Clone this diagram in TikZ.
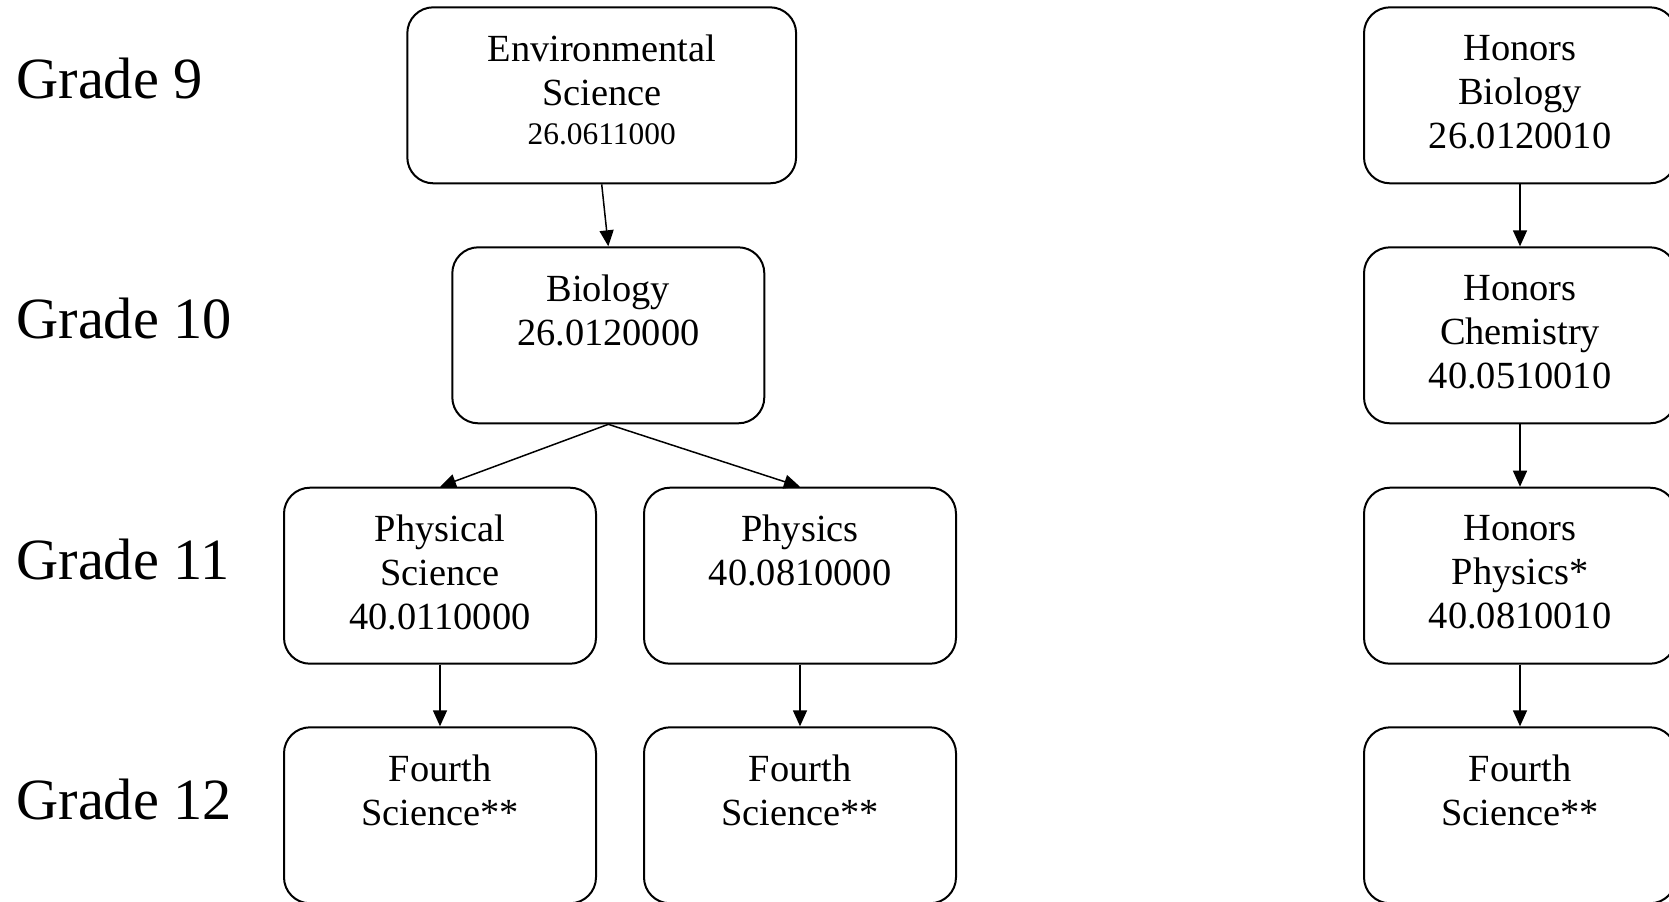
\documentclass[tikz,border=0pt]{standalone}
\usepackage{fontspec}
\setmainfont{Liberation Serif}
\usetikzlibrary{arrows.meta}
\begin{document}
\begin{tikzpicture}[x=0.5pt,y=-0.5pt,
  course/.style={draw, line width=1pt, rounded corners=13pt, minimum width=156pt, minimum height=88pt, inner sep=0pt},
  ctext/.style={anchor=north, inner sep=0pt, align=center, font=\fontsize{19.2pt}{22pt}\selectfont},
  grade/.style={anchor=base west, inner sep=0pt, font=\fontsize{29.2pt}{34pt}\selectfont},
  link/.style={line width=0.75pt, -{Triangle[length=8pt,width=7pt]}}]
\useasboundingbox (0,0) rectangle (1669,901);
\clip (0,0) rectangle (1669,901);

% grade labels
\node[grade] (g9)  at (16,98.3)  {Grade 9};
\node[grade] (g10) at (16,338.3) {Grade 10};
\node[grade] (g11) at (16,579.3) {Grade 11};
\node[grade] (g12) at (16,819.3) {Grade 12};

% boxes
\node[course, minimum width=194.4pt] (env) at (601.7,95.3) {};
\node[course] (bio)   at (608.3,335.3) {};
\node[course] (psci)  at (440,575.7) {};
\node[course] (phys)  at (800,575.7) {};
\node[course] (f4a)   at (440,815.3) {};
\node[course] (f4b)   at (800,815.3) {};
\node[course] (hbio)  at (1520,95.3) {};
\node[course] (hchem) at (1520,335.3) {};
\node[course] (hphys) at (1520,575.7) {};
\node[course] (f4c)   at (1520,815.3) {};

% texts
\node[ctext] (envT) at (601.7,34.8) {Environmental\\Science\\[-2.85pt]{\fontsize{15.7pt}{19pt}\selectfont 26.0611000}};
\node[ctext] (bioT) at (608.3,274.8) {Biology\\26.0120000};
\node[ctext] (psciT) at (440,514.8) {Physical\\Science\\40.0110000};
\node[ctext] (physT) at (800,514.8) {Physics\\40.0810000};
\node[ctext] (f4aT) at (440,754.8) {Fourth\\Science**};
\node[ctext] (f4bT) at (800,754.8) {Fourth\\Science**};
\node[ctext] (hbioT) at (1520,34.8) {Honors\\Biology\\26.0120010};
\node[ctext] (hchemT) at (1520,274.8) {Honors\\Chemistry\\40.0510010};
\node[ctext] (hphysT) at (1520,514.8) {Honors\\Physics*\\40.0810010};
\node[ctext] (f4cT) at (1520,754.8) {Fourth\\Science**};

% connectors
\draw[link] (env.south) -- (bio.north);
\draw[link] (bio.south) -- (psci.north);
\draw[link] (bio.south) -- (phys.north);
\draw[link] (psci.south) -- (f4a.north);
\draw[link] (phys.south) -- (f4b.north);
\draw[link] (hbio.south) -- (hchem.north);
\draw[link] (hchem.south) -- (hphys.north);
\draw[link] (hphys.south) -- (f4c.north);
\end{tikzpicture}
\end{document}
